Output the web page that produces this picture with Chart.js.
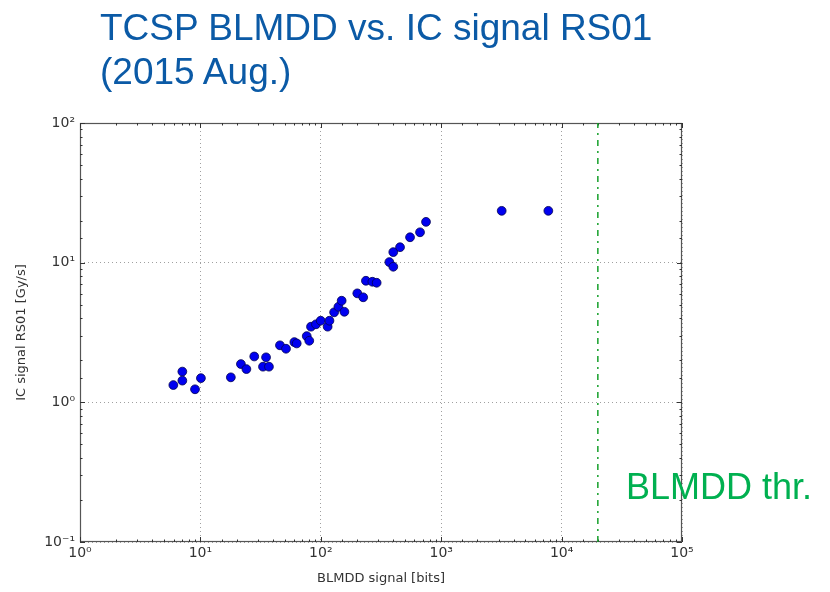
<!DOCTYPE html>
<html>
<head>
<meta charset="utf-8">
<script src="https://cdn.jsdelivr.net/npm/chart.js@4/dist/chart.umd.min.js"></script>
<style>
  body { margin: 0; background: #fff; }
  #wrap { position: relative; width: 830px; height: 592px; overflow: hidden; }
  #chart { position: absolute; left: 0; top: 0; }
  .title { position: absolute; left: 100px; top: 6px; font: 37px "Liberation Sans", Arial, sans-serif; line-height: 44px; color: #0b5aa6; white-space: nowrap; }
  .thr { position: absolute; left: 626px; top: 469px; font: 36px "Liberation Sans", Arial, sans-serif; line-height: 36px; color: #00b050; white-space: nowrap; }
</style>
</head>
<body>
<div id="wrap">
  <canvas id="chart" width="830" height="592"></canvas>
  <div class="title">TCSP BLMDD vs. IC signal RS01<br>(2015 Aug.)</div>
  <div class="thr">BLMDD thr.</div>
</div>
<script>
// BLMDD signal [bits] vs IC signal RS01 [Gy/s]
const blmddSignal = [5.96, 7.08, 7.08, 9.02, 10.1, 17.9, 21.7, 24.1, 28.0, 35.1, 33.1, 37.1,
  45.8, 51.4, 60.3, 63.1, 76.4, 80.2, 82.9, 91.2, 99.8, 114, 118, 129, 140, 149, 157,
  201, 225, 237, 268, 291, 371, 400, 400, 455, 551, 667, 748, 3180, 7760];
const icSignal = [1.33, 1.66, 1.43, 1.24, 1.49, 1.51, 1.88, 1.73, 2.13, 2.10, 1.80, 1.80,
  2.56, 2.42, 2.70, 2.64, 2.98, 2.76, 3.48, 3.62, 3.84, 3.48, 3.84, 4.41, 4.83, 5.34, 4.45,
  6.03, 5.65, 7.42, 7.30, 7.18, 10.1, 9.35, 11.9, 12.9, 15.2, 16.5, 19.6, 23.5, 23.5];
const thresholdX = 20000;
const xRange = [1, 100000];
const yRange = [0.1, 100];

const sup = { "-": "\u207B", "0": "\u2070", "1": "\u00B9", "2": "\u00B2", "3": "\u00B3", "4": "\u2074", "5": "\u2075" };
function isPow10(v) {
  const l = Math.log10(v);
  return Math.abs(l - Math.round(l)) < 1e-9;
}
function powLabel(v) {
  const e = String(Math.round(Math.log10(v)));
  return "10" + e.split("").map(c => sup[c]).join("");
}

const points = blmddSignal.map((x, i) => ({ x: x, y: icSignal[i] }));

// frame and inward tick marks like matplotlib
const framePlugin = {
  id: "frame",
  beforeDatasetsDraw(chart) {
    const { ctx, chartArea: a, scales } = chart;
    ctx.save();
    ctx.strokeStyle = "#555";
    ctx.lineWidth = 1.2;
    ctx.strokeRect(a.left + 0.5, a.top + 0.5, a.right - a.left - 1, a.bottom - a.top - 1);
    ctx.strokeStyle = "#333";
    ctx.lineWidth = 1;
    scales.x.ticks.forEach(t => {
      const px = Math.round(scales.x.getPixelForValue(t.value)) + 0.5;
      const len = isPow10(t.value) ? 5 : 2.5;
      ctx.beginPath();
      ctx.moveTo(px, a.bottom); ctx.lineTo(px, a.bottom - len);
      ctx.moveTo(px, a.top); ctx.lineTo(px, a.top + len);
      ctx.stroke();
    });
    scales.y.ticks.forEach(t => {
      const py = Math.round(scales.y.getPixelForValue(t.value)) + 0.5;
      const len = isPow10(t.value) ? 5 : 2.5;
      ctx.beginPath();
      ctx.moveTo(a.left, py); ctx.lineTo(a.left + len, py);
      ctx.moveTo(a.right, py); ctx.lineTo(a.right - len, py);
      ctx.stroke();
    });
    ctx.restore();
  }
};

const gridColor = c => (c.tick && isPow10(c.tick.value)) ? "rgba(150,150,150,0.9)" : "rgba(0,0,0,0)";

new Chart(document.getElementById("chart"), {
  type: "scatter",
  plugins: [framePlugin],
  data: {
    datasets: [
      {
        type: "line",
        data: [{ x: thresholdX, y: yRange[0] }, { x: thresholdX, y: yRange[1] }],
        borderColor: "#15a02a",
        borderWidth: 1.5,
        borderDash: [6, 5, 2, 5],
        pointRadius: 0,
        fill: false,
      },
      {
        data: points,
        backgroundColor: "#0000f0",
        borderColor: "#000050",
        borderWidth: 0.8,
        pointRadius: 4.4,
      },
    ],
  },
  options: {
    responsive: false,
    animation: false,
    layout: { padding: { top: 123, right: 148, left: 0, bottom: 0 } },
    plugins: {
      legend: { display: false },
      tooltip: { enabled: false },
    },
    scales: {
      x: {
        type: "logarithmic",
        min: xRange[0],
        max: xRange[1],
        afterFit: s => { s.height = 50; },
        grid: { color: gridColor, drawTicks: false, lineWidth: 1 },
        border: { display: false, dash: [1, 3] },
        ticks: {
          autoSkip: false,
          maxRotation: 0,
          padding: 3,
          color: "#333",
          font: { family: "DejaVu Sans", size: 14 },
          callback: v => isPow10(v) ? powLabel(v) : "",
        },
        title: {
          display: true,
          text: "BLMDD signal [bits]",
          color: "#333",
          font: { family: "DejaVu Sans", size: 13 },
          padding: { top: 4, bottom: 6 },
        },
      },
      y: {
        type: "logarithmic",
        min: yRange[0],
        max: yRange[1],
        afterFit: s => { s.width = 80; },
        grid: { color: gridColor, drawTicks: false, lineWidth: 1 },
        border: { display: false, dash: [1, 3] },
        ticks: {
          autoSkip: false,
          padding: 5,
          color: "#333",
          font: { family: "DejaVu Sans", size: 14 },
          callback: v => isPow10(v) ? powLabel(v) : "",
        },
        title: {
          display: true,
          text: "IC signal RS01 [Gy/s]",
          color: "#333",
          font: { family: "DejaVu Sans", size: 13 },
          padding: { top: 14, bottom: 4 },
        },
      },
    },
  },
});
</script>
</body>
</html>
